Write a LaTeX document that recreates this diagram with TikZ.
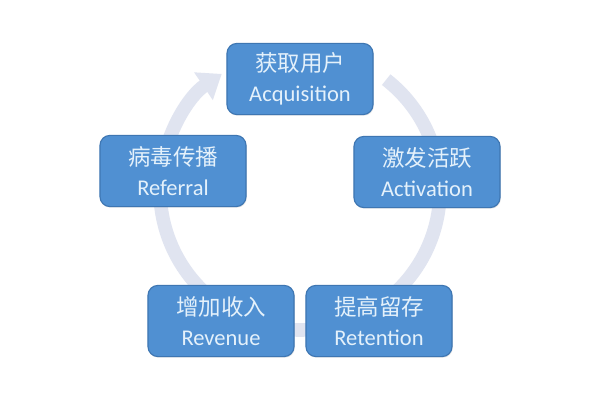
\documentclass[tikz,border=0pt]{standalone}
\usepackage{fontspec}
\setmainfont{Carlito}
\newfontfamily\cjk{Noto Sans CJK SC}
\usetikzlibrary{arrows.meta,shadows}

\definecolor{boxblue}{RGB}{80,144,210}
\definecolor{boxedge}{RGB}{62,118,178}
\definecolor{boxtext}{RGB}{228,241,251}
\definecolor{ringgray}{RGB}{224,228,240}

\tikzset{
    stage/.style = {draw = boxedge, line width = 0.8pt, fill = boxblue,
        rounded corners = 0.25cm, minimum width = 3.65cm, minimum height = 1.78cm,
        align = center, text = boxtext, font = \fontsize{16}{21.5}\selectfont,
        drop shadow = {opacity = 0.2, shadow xshift = 0.6pt, shadow yshift = -0.8pt}},
    ring/.style  = {draw = ringgray, line width = 0.34cm,
        -{Triangle[width = 0.8cm, length = 0.55cm]}}
}

\begin{document}
\begin{tikzpicture}[x = 0.025cm, y = 0.025cm]
    \useasboundingbox (0,0) rectangle (600,400);
    \fill[white] (0,0) rectangle (600,400);

    % the cycle behind the boxes
    \coordinate (hub) at (300,210);
    \draw[ring] (hub) ++(52:140) arc[start angle = 52, end angle = -236, radius = 140];

    % five stages, clockwise from the top
    \node[stage] (acquisition) at (300,321) {{\cjk 获取用户}\\Acquisition};
    \node[stage] (activation)  at (427,228) {{\cjk 激发活跃}\\Activation};
    \node[stage] (retention)   at (379,79)  {{\cjk 提高留存}\\Retention};
    \node[stage] (revenue)     at (221,79)  {{\cjk 增加收入}\\Revenue};
    \node[stage] (referral)    at (173,229) {{\cjk 病毒传播}\\Referral};
\end{tikzpicture}
\end{document}
